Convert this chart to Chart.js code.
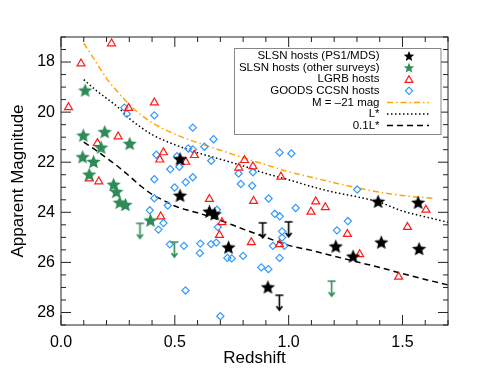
<!DOCTYPE html>
<html>
<head>
<meta charset="utf-8">
<script src="https://cdn.jsdelivr.net/npm/chart.js@4.4.1/dist/chart.umd.min.js"></script>
<style>
body { margin: 0; background: #fff; }
canvas { display: block; }
</style>
</head>
<body>
<canvas id="chart" width="485" height="372"></canvas>
<script>
var FONT = "'Liberation Sans', Arial, Helvetica, sans-serif";

// tick labels
var xTicks = [0, 0.5, 1.0, 1.5];
var yTicks = [18, 20, 22, 24, 26, 28];

// SLSN hosts (PS1/MDS)
var ps1Z   = [0.523, 0.523, 0.652, 0.675, 0.736, 0.909, 1.393, 1.569, 1.207, 1.283, 1.407, 1.573];
var ps1Mag = [21.86, 23.32, 23.96, 24.06, 25.39, 26.98, 23.56, 23.60, 25.35, 25.75, 25.19, 25.45];
// PS1/MDS upper limits
var ps1LimZ   = [0.886, 1.000, 0.959];
var ps1LimMag = [24.42, 24.38, 27.31];

// SLSN hosts (other surveys)
var otherZ   = [0.106, 0.098, 0.192, 0.176, 0.302, 0.095, 0.143, 0.124, 0.231, 0.243, 0.258, 0.283, 0.393];
var otherMag = [19.12, 20.92, 20.78, 21.40, 21.25, 21.78, 21.97, 22.48, 22.88, 23.17, 23.60, 23.69, 24.31];
var otherLimZ   = [0.347, 0.498, 1.189];
var otherLimMag = [24.44, 25.19, 26.75];

// LGRB hosts
var grbZ   = [0.222, 0.088, 0.033, 0.297, 0.410, 0.251, 0.160, 0.450, 0.434, 0.548, 0.586,
              0.124, 0.166, 0.438, 0.652, 0.707, 0.696, 0.806, 0.781, 0.843, 0.966, 0.846,
              0.836, 0.960, 1.119, 1.098, 1.161, 1.258, 1.312, 1.483, 1.522, 1.603];
var grbMag = [17.26, 18.06, 19.81, 19.84, 19.62, 20.98, 21.24, 21.61, 21.90, 21.99, 21.72,
              22.65, 22.77, 24.17, 23.47, 24.40, 24.91, 21.92, 22.22, 22.17, 22.58, 23.55,
              25.20, 25.28, 23.57, 23.98, 23.80, 24.87, 25.68, 26.58, 24.59, 23.90];

// GOODS CCSN hosts
var ccZ   = [0.278, 0.289, 0.410, 0.579, 0.670, 0.630, 0.559, 0.579, 0.960, 1.012, 0.419,
             0.510, 0.660, 0.480, 0.520, 0.780, 0.843, 0.410, 0.579, 0.548, 0.790, 0.840,
             0.499, 0.912, 0.410, 1.031, 0.469, 0.939, 0.961, 0.390, 0.685, 0.450, 0.689,
             0.428, 0.971, 0.971, 0.931, 0.981, 0.960, 0.478, 0.540, 0.612, 0.610, 0.659,
             0.682, 0.800, 0.750, 0.731, 0.880, 0.911, 0.547, 0.700, 1.212, 1.260, 1.301];
var ccMag = [19.82, 20.07, 20.13, 20.62, 21.08, 21.38, 21.45, 21.49, 21.61, 21.65, 21.70,
             21.76, 21.94, 22.28, 22.18, 22.45, 22.40, 22.68, 22.60, 22.80, 22.87, 22.94,
             23.01, 23.45, 23.44, 23.83, 23.73, 24.06, 24.16, 23.92, 23.90, 24.43, 24.59,
             24.69, 24.76, 25.01, 25.34, 25.34, 25.82, 25.28, 25.34, 25.25, 25.63, 25.27,
             25.21, 25.74, 25.84, 25.82, 26.20, 26.27, 27.12, 28.15, 24.72, 24.35, 23.09];

// M = -21 mag curve
var m21Z   = [0.10, 0.15, 0.20, 0.25, 0.30, 0.35, 0.40, 0.50, 0.60, 0.70, 0.80, 0.90, 1.00, 1.10, 1.20, 1.30, 1.40, 1.50, 1.64];
var m21Mag = [17.25, 17.95, 18.65, 19.20, 19.70, 20.10, 20.42, 20.88, 21.22, 21.52, 21.82, 22.10, 22.38, 22.60, 22.82, 23.02, 23.20, 23.33, 23.45];
// L* curve
var lstarZ   = [0.10, 0.15, 0.20, 0.25, 0.30, 0.35, 0.40, 0.50, 0.60, 0.70, 0.80, 0.90, 1.00, 1.10, 1.20, 1.30, 1.40, 1.50, 1.60, 1.70];
var lstarMag = [18.70, 19.10, 19.45, 19.80, 20.25, 20.60, 20.90, 21.30, 21.62, 21.88, 22.15, 22.45, 22.70, 22.97, 23.20, 23.38, 23.60, 23.95, 24.18, 24.40];
// 0.1 L* curve
var tenthZ   = [0.10, 0.15, 0.20, 0.25, 0.30, 0.35, 0.40, 0.45, 0.50, 0.55, 0.60, 0.70, 0.80, 0.90, 1.00, 1.10, 1.20, 1.30, 1.40, 1.50, 1.60, 1.70];
var tenthMag = [21.20, 21.50, 21.83, 22.17, 22.55, 22.95, 23.28, 23.52, 23.75, 23.90, 24.02, 24.32, 24.67, 25.00, 25.32, 25.52, 25.75, 25.98, 26.20, 26.45, 26.68, 26.90];

function pts(xs, ys) {
	return xs.map(function(x, i){ return {x: x, y: ys[i]}; });
}

function starPath(ctx, cx, cy, rOut, rIn) {
	ctx.beginPath();
	for (var i = 0; i < 10; i++) {
		var r = (i % 2) ? rIn : rOut;
		var a = -Math.PI / 2 + i * Math.PI / 5;
		ctx.lineTo(cx + r * Math.cos(a), cy + r * Math.sin(a));
	}
	ctx.closePath();
}

function makeStar(color, rOut) {
	var c = document.createElement('canvas');
	var s = Math.ceil(rOut * 2 + 2);
	c.width = s; c.height = s;
	var ctx = c.getContext('2d');
	ctx.fillStyle = color;
	starPath(ctx, s / 2, s / 2 + rOut * 0.1, rOut, rOut * 0.45);
	ctx.fill();
	return c;
}

function makeArrow(color) {
	// bar sits at the canvas centre (the limit value), arrow points down
	var c = document.createElement('canvas');
	c.width = 11; c.height = 34;
	var ctx = c.getContext('2d');
	ctx.strokeStyle = color; ctx.lineWidth = 1.6;
	ctx.beginPath();
	ctx.moveTo(1.5, 17); ctx.lineTo(9.5, 17);
	ctx.moveTo(5.5, 17); ctx.lineTo(5.5, 32);
	ctx.moveTo(2.5, 28); ctx.lineTo(5.5, 32); ctx.lineTo(8.5, 28);
	ctx.stroke();
	return c;
}

var BLACK = '#000000', GREEN = '#2e8b57', RED = '#ff1a1a', BLUE = '#3399ff', ORANGE = '#ffa500';

var frameTicks = {
	id: 'frameTicks',
	afterDatasetsDraw: function(chart) {
		var ctx = chart.ctx, a = chart.chartArea;
		var xs = chart.scales.x, ys = chart.scales.y;
		ctx.save();
		ctx.strokeStyle = '#222';
		ctx.lineWidth = 1;
		ctx.strokeRect(a.left, a.top, a.right - a.left, a.bottom - a.top);
		ctx.beginPath();
		for (var i = 0; i <= 17; i++) {
			var px = xs.getPixelForValue(i / 10);
			var len = (i % 5 === 0) ? 10 : 5;
			ctx.moveTo(px, a.bottom); ctx.lineTo(px, a.bottom - len);
			ctx.moveTo(px, a.top); ctx.lineTo(px, a.top + len);
		}
		for (var j = 34; j <= 57; j++) {
			var m = j / 2;
			var py = ys.getPixelForValue(m);
			var l2 = (m % 2 === 0) ? 10 : 5;
			ctx.moveTo(a.left, py); ctx.lineTo(a.left + l2, py);
			ctx.moveTo(a.right, py); ctx.lineTo(a.right - l2, py);
		}
		ctx.stroke();
		ctx.restore();
	}
};

var legendBox = {
	id: 'legendBox',
	afterDraw: function(chart) {
		var ctx = chart.ctx;
		ctx.save();
		ctx.strokeStyle = '#888';
		ctx.lineWidth = 1;
		ctx.fillStyle = '#fff';
		ctx.fillRect(234.5, 48.5, 206.5, 86);
		ctx.strokeRect(234.5, 48.5, 206.5, 86);
		var labels = ['SLSN hosts (PS1/MDS)', 'SLSN hosts (other surveys)', 'LGRB hosts',
			'GOODS CCSN hosts', 'M = \u201321 mag', 'L*', '0.1L*'];
		ctx.font = '11.5px ' + FONT;
		ctx.fillStyle = '#000';
		ctx.textAlign = 'right';
		ctx.textBaseline = 'middle';
		var y0 = 56, dy = 11.6, tx = 379.5, mx = 409;
		labels.forEach(function(t, i){ ctx.fillText(t, tx, y0 + i * dy); });
		// markers
		ctx.fillStyle = BLACK;
		starPath(ctx, mx, y0 + 0.5, 5.5, 2.4); ctx.fill();
		ctx.fillStyle = GREEN;
		starPath(ctx, mx, y0 + dy + 0.5, 5.5, 2.4); ctx.fill();
		ctx.lineWidth = 1.2;
		ctx.strokeStyle = RED;
		var ty = y0 + 2 * dy, r = 4.4;
		ctx.beginPath();
		ctx.moveTo(mx, ty - r + 1);
		ctx.lineTo(mx + r * 0.87, ty + r * 0.5 + 1);
		ctx.lineTo(mx - r * 0.87, ty + r * 0.5 + 1);
		ctx.closePath(); ctx.stroke();
		ctx.strokeStyle = BLUE;
		var dyy = y0 + 3 * dy, d = 3.6;
		ctx.beginPath();
		ctx.moveTo(mx, dyy - d); ctx.lineTo(mx + d, dyy); ctx.lineTo(mx, dyy + d); ctx.lineTo(mx - d, dyy);
		ctx.closePath(); ctx.stroke();
		// line samples
		ctx.lineWidth = 1.5;
		var lines = [[ORANGE, [6, 3, 1.5, 3]], [BLACK, [1.5, 2.5]], [BLACK, [6, 4]]];
		lines.forEach(function(l, i){
			var ly = y0 + (4 + i) * dy;
			ctx.strokeStyle = l[0];
			ctx.setLineDash(l[1]);
			ctx.beginPath(); ctx.moveTo(387, ly); ctx.lineTo(429, ly); ctx.stroke();
		});
		ctx.restore();
	}
};

function curve(xs, ys, color, dash, order) {
	return {
		data: pts(xs, ys), showLine: true, borderColor: color, borderWidth: 1.5,
		borderDash: dash, pointRadius: 0, cubicInterpolationMode: 'monotone', order: order
	};
}

new Chart(document.getElementById('chart'), {
	type: 'scatter',
	data: {
		datasets: [
			curve(m21Z, m21Mag, ORANGE, [6, 3, 1.5, 3], 9),
			curve(lstarZ, lstarMag, BLACK, [1.5, 2.5], 9),
			curve(tenthZ, tenthMag, BLACK, [6, 4], 9),
			{ data: pts(ccZ, ccMag), pointStyle: 'rectRot', pointRadius: 3.6, pointBorderWidth: 1.2,
				borderColor: BLUE, pointBorderColor: BLUE, backgroundColor: 'rgba(0,0,0,0)', pointBackgroundColor: 'rgba(0,0,0,0)', order: 5 },
			{ data: pts(grbZ, grbMag), pointStyle: 'triangle', pointRadius: 4.6, pointBorderWidth: 1.2,
				borderColor: RED, pointBorderColor: RED, backgroundColor: 'rgba(0,0,0,0)', pointBackgroundColor: 'rgba(0,0,0,0)', order: 4 },
			{ data: pts(otherZ, otherMag), pointStyle: makeStar(GREEN, 7.5), pointRadius: 7, order: 3 },
			{ data: pts(otherLimZ, otherLimMag), pointStyle: makeArrow(GREEN), pointRadius: 7, order: 3 },
			{ data: pts(ps1Z, ps1Mag), pointStyle: makeStar(BLACK, 7.5), pointRadius: 7, order: 2 },
			{ data: pts(ps1LimZ, ps1LimMag), pointStyle: makeArrow(BLACK), pointRadius: 7, order: 2 }
		]
	},
	options: {
		responsive: false,
		animation: false,
		devicePixelRatio: 1,
		layout: { padding: { top: 37, right: 37, left: 0, bottom: 0 } },
		plugins: { legend: { display: false }, tooltip: { enabled: false } },
		scales: {
			x: {
				type: 'linear', min: 0, max: 1.7,
				grid: { display: false, drawTicks: false }, border: { display: false },
				afterFit: function(s){ s.height = 47; },
				afterBuildTicks: function(s){ s.ticks = xTicks.map(function(v){ return {value: v}; }); },
				ticks: { font: { family: FONT, size: 16 }, color: '#000', padding: 8, maxRotation: 0, autoSkip: false,
					callback: function(v){ return Number(v).toFixed(1); } },
				title: { display: true, text: 'Redshift', color: '#000', font: { family: FONT, size: 17 }, padding: { top: 0, bottom: 3 } }
			},
			y: {
				type: 'linear', reverse: true, min: 17, max: 28.5,
				grid: { display: false, drawTicks: false }, border: { display: false },
				afterFit: function(s){ s.width = 61; },
				afterBuildTicks: function(s){ s.ticks = yTicks.map(function(v){ return {value: v}; }); },
				ticks: { font: { family: FONT, size: 16 }, color: '#000', padding: 6, autoSkip: false },
				title: { display: true, text: 'Apparent Magnitude', color: '#000', font: { family: FONT, size: 17 }, padding: { top: 8, bottom: 0 } }
			}
		}
	},
	plugins: [frameTicks, legendBox]
});
</script>
</body>
</html>
